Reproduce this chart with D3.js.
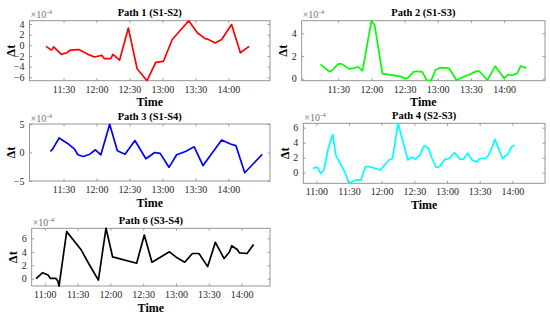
<!DOCTYPE html>
<html><head><meta charset="utf-8">
<script src="https://cdn.jsdelivr.net/npm/d3@7"></script>
<style>
html,body{margin:0;padding:0;background:#fff;}
svg{display:block;font-family:"Liberation Serif","Times New Roman",serif;}
</style></head>
<body><svg id="c" width="550" height="320"></svg>
<script>
// ---- data (values in units of 1e-4) ----
const titles = ["Path 1 (S1-S2)","Path 2 (S1-S3)","Path 3 (S1-S4)","Path 4 (S2-S3)","Path 6 (S3-S4)"];
const colors = ["#ff0000","#00ff00","#0000ff","#00ffff","#000000"];

const p1Times = ["11:14","11:19","11:21","11:28","11:33","11:36","11:44","11:53","11:58","12:05","12:07","12:13","12:15","12:21","12:29","12:37","12:46","12:54","13:01","13:09","13:24","13:32","13:39","13:42","13:48","13:54","14:03","14:11","14:19"];
const p1Vals  = [-0.2,-0.9,-0.3,-1.7,-1.4,-0.9,-0.8,-1.75,-2.2,-1.9,-2.5,-2.5,-1.7,-2.8,3.25,-4.4,-6.64,-3.2,-3.0,1.1,4.6,2.3,1.25,1.1,0.45,1.1,3.9,-1.4,-0.2];

const p2Times = ["11:14","11:22","11:25","11:30","11:33","11:40","11:43","11:48","11:52","12:00","12:03","12:10","12:26","12:31","12:33","12:38","12:41","12:46","12:50","12:54","12:58","13:02","13:10","13:17","13:25","13:28","13:34","13:37","13:45","13:52","14:00","14:04","14:07","14:12","14:15","14:20"];
const p2Vals  = [1.26,0.62,0.76,1.3,1.3,0.85,0.9,1.05,0.68,5.1,4.7,0.44,0.2,0.0,0.06,0.6,0.65,0.6,-0.12,-0.18,0.76,0.97,0.94,-0.12,0.24,0.32,0.62,0.7,-0.12,1.1,0.04,0.37,0.28,0.47,1.12,0.93];

const p3Times = ["11:18","11:20","11:26","11:34","11:40","11:43","11:48","11:54","11:59","12:04","12:12","12:19","12:26","12:35","12:45","12:53","12:58","13:06","13:13","13:21","13:29","13:37","13:54","14:02","14:07","14:15","14:31"];
const p3Vals  = [0.18,0.6,2.55,1.55,0.6,-0.4,-0.7,-0.3,0.48,-0.4,4.95,0.3,-0.3,2.1,-1.1,0.0,-0.15,-2.6,-0.4,0.18,1.0,-2.3,2.2,1.5,1.2,-3.55,-0.3];

const p4Times = ["10:57","11:01","11:04","11:07","11:11","11:15","11:18","11:26","11:30","11:37","11:41","11:45","11:48","11:59","12:03","12:07","12:10","12:15","12:24","12:28","12:31","12:35","12:39","12:43","12:46","12:50","12:53","12:58","13:02","13:07","13:12","13:15","13:19","13:23","13:27","13:30","13:35","13:38","13:42","13:44","13:51","13:56","13:59","14:02"];
const p4Vals  = [0.58,0.76,-0.1,0.36,3.33,5.1,2.27,0.13,-1.4,-0.93,-0.98,0.8,0.84,0.36,1.1,1.73,1.9,6.6,1.7,2.1,1.8,2.35,3.6,3.25,2.0,0.7,0.8,1.78,1.9,2.7,1.78,1.8,2.6,1.7,1.42,1.9,1.9,2.27,3.6,4.45,1.9,2.5,3.4,3.7];

const p5Times = ["10:52","10:58","11:03","11:05","11:10","11:12","11:13","11:20","11:33","11:40","11:49","11:56","12:02","12:24","12:31","12:38","12:54","13:01","13:08","13:15","13:21","13:29","13:36","13:44","13:49","13:51","13:56","13:58","14:05","14:11"];
const p5Vals  = [0.0,0.9,0.55,0.05,0.05,-0.35,-1.1,7.0,4.35,2.3,-0.2,7.5,3.25,2.3,6.5,2.45,4.0,3.1,2.45,3.75,3.75,1.8,5.4,3.0,4.0,4.9,4.35,3.85,3.75,5.1];

const xDomains = [["10:59","14:38"],["10:57","14:37"],["10:59","14:38"],["10:48","14:30"],["10:48","14:26"]];
const yDomains = [[-6.64,4.62],[-0.18,5.11],[-5,5],[-1.41,6.59],[-1.08,7.49]];
const yTicks = [[-6,-4,-2,0,2,4],[0,2,4],[-5,0,5],[0,2,4,6],[0,2,4,6]];
const xTicksShort = ["11:30","12:00","12:30","13:00","13:30","14:00"];
const xTicksLong = ["11:00","11:30","12:00","12:30","13:00","13:30","14:00"];
const xTickSets = [xTicksShort,xTicksShort,xTicksShort,xTicksLong,xTicksLong];
const xLabel = "Time";
const yLabel = "\u0394t";
const expBase = "\u00d710", expPow = "-4";

const seriesTimes = [p1Times,p2Times,p3Times,p4Times,p5Times];
const seriesVals = [p1Vals,p2Vals,p3Vals,p4Vals,p5Vals];

// ---- layout ----
const boxes = [
  {x0:29.5,x1:270,y0:20.7,y1:80.7},
  {x0:301.7,x1:545,y0:20.7,y1:80.7},
  {x0:29.5,x1:270,y0:124,y1:181},
  {x0:303.3,x1:545,y0:123.3,y1:183.3},
  {x0:31.7,x1:270,y0:228.3,y1:286}
];

const t = s => { const [h,m] = s.split(":").map(Number); return new Date(2020,0,1,h,m); };
const svg = d3.select("#c");
const tickCol = "#262626";

boxes.forEach((b,i) => {
  const g = svg.append("g");
  const x = d3.scaleTime().domain(xDomains[i].map(t)).range([b.x0,b.x1]);
  const y = d3.scaleLinear().domain(yDomains[i]).range([b.y1,b.y0]);
  const xt = xTickSets[i].map(t);
  const fmt = d3.timeFormat("%H:%M");

  g.append("rect").attr("x",b.x0).attr("y",b.y0).attr("width",b.x1-b.x0).attr("height",b.y1-b.y0)
    .attr("fill","none").attr("stroke","#8a8a8a").attr("stroke-width",0.9);

  const xa = g.append("g").attr("transform",`translate(0,${b.y1})`)
    .call(d3.axisBottom(x).tickValues(xt).tickFormat(fmt).tickSizeInner(-2.5).tickSizeOuter(0).tickPadding(5));
  const xa2 = g.append("g").attr("transform",`translate(0,${b.y0})`)
    .call(d3.axisTop(x).tickValues(xt).tickFormat("").tickSizeInner(-2.5).tickSizeOuter(0));
  const ya = g.append("g").attr("transform",`translate(${b.x0},0)`)
    .call(d3.axisLeft(y).tickValues(yTicks[i]).tickFormat(d3.format("d")).tickSizeInner(-2.5).tickSizeOuter(0).tickPadding(5));
  const ya2 = g.append("g").attr("transform",`translate(${b.x1},0)`)
    .call(d3.axisRight(y).tickValues(yTicks[i]).tickFormat("").tickSizeInner(-2.5).tickSizeOuter(0));
  [xa,xa2,ya,ya2].forEach(a => {
    a.select(".domain").remove();
    a.selectAll(".tick line").attr("stroke","#8a8a8a").attr("stroke-width",0.8);
    a.selectAll(".tick text").attr("fill",tickCol).style("font-size","10px").style("font-family","Liberation Serif, serif");
  });

  const data = seriesTimes[i].map((s,k) => ({t:t(s), v:seriesVals[i][k]}));
  g.append("path").datum(data)
    .attr("fill","none").attr("stroke",colors[i]).attr("stroke-width",1.7).attr("stroke-linejoin","round")
    .attr("d", d3.line().x(d => x(d.t)).y(d => y(d.v)));

  g.append("text").attr("x",(b.x0+b.x1)/2).attr("y",b.y0-4.5).attr("text-anchor","middle")
    .style("font-weight","bold").style("font-size","10.5px").attr("fill","#000").text(titles[i]);

  g.append("text").attr("x",(b.x0+b.x1)/2).attr("y",b.y1+25.5).attr("text-anchor","middle")
    .style("font-weight","bold").style("font-size","12px").attr("fill","#000").text(xLabel);

  g.append("text").attr("transform",`translate(${b.x0-14.5},${(b.y0+b.y1)/2}) rotate(-90)`)
    .attr("text-anchor","middle").style("font-weight","bold").style("font-size","12.5px").attr("fill","#000").text(yLabel);

  const ex = g.append("text").attr("x",b.x0+1).attr("y",b.y0-2.5).attr("fill","#707070").style("font-size","10px");
  ex.append("tspan").text(expBase);
  ex.append("tspan").attr("dy",-4).style("font-size","7px").text(expPow);
});
</script>
</body></html>
